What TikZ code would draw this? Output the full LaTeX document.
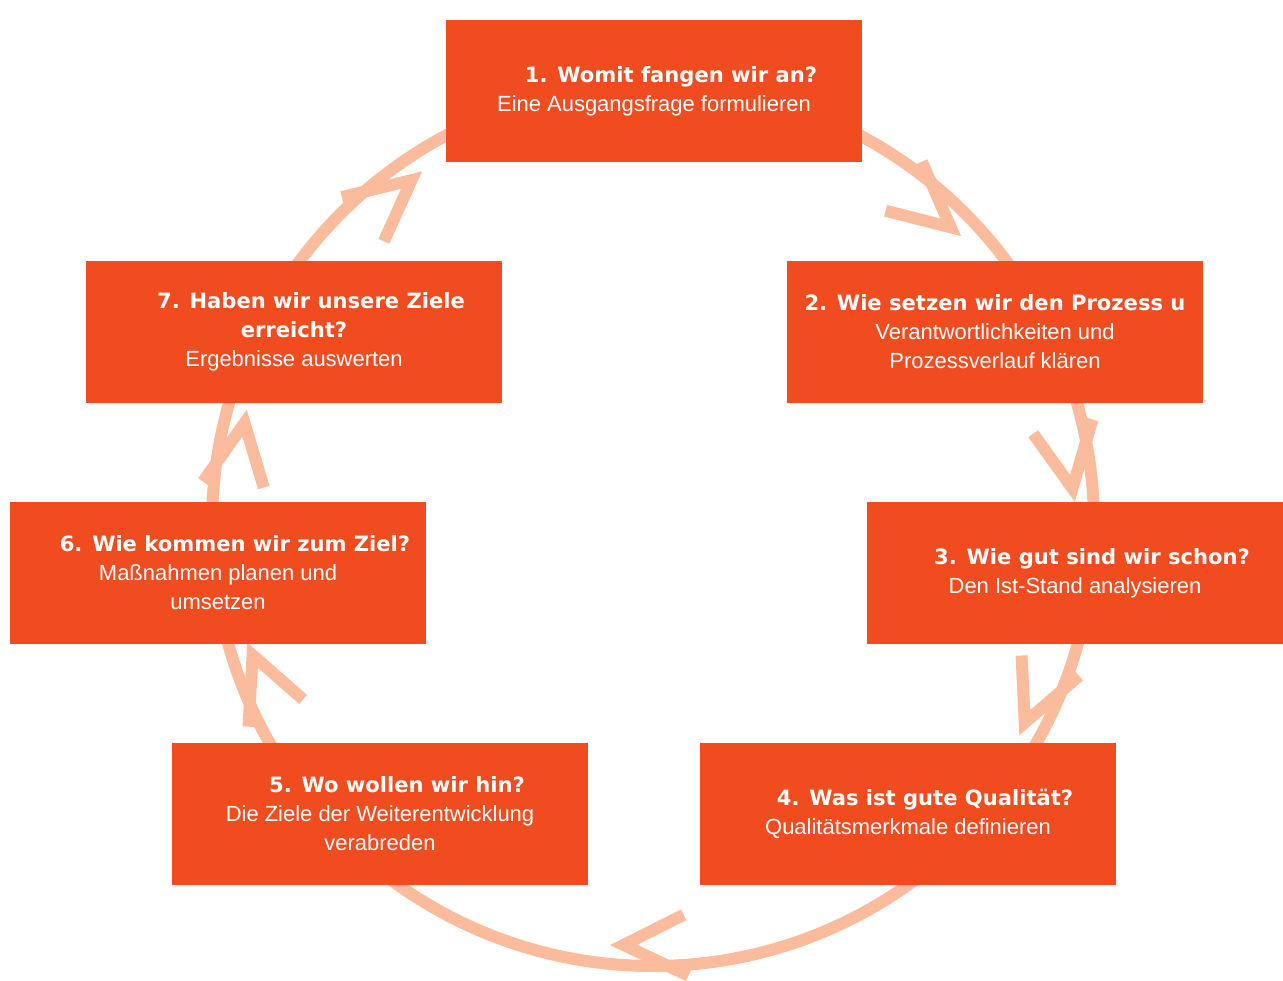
\documentclass[tikz,border=0pt]{standalone}
\usepackage{fontspec}
\setmainfont{Liberation Sans}
\newfontfamily\titelschrift{DejaVu Sans}
\usetikzlibrary{calc}

\definecolor{boxrot}{RGB}{240,76,32}
\definecolor{ringfarbe}{RGB}{250,188,156}
\newcommand{\titel}[2][0.68cm]{{\hspace*{#1}\titelschrift\bfseries\fontsize{12}{16.5}\selectfont #2}}

\begin{document}
\begin{tikzpicture}[x=0.02cm, y=0.02cm,
      box/.style={fill=boxrot, text=white, minimum width=8.32cm, minimum height=2.84cm,
                  inner sep=0pt, align=center, font=\fontsize{12.5}{16.5}\selectfont},
      ring/.style={draw=ringfarbe, line width=0.24cm},
      pfeil/.style={draw=ringfarbe, line width=0.24cm, line join=miter}]

               \useasboundingbox (0, 0) rectangle (1283, 980);

               %% Kreis
               \coordinate (mitte) at (653, 455);
               \draw[ring] (mitte) circle (441);
               \foreach \w in {45, 5, -28, -94, -162, 166, 125}
                   \draw[pfeil] ($(mitte) + (\w+8.5:452)$) -- ($(mitte) + (\w:421)$) -- ($(mitte) + (\w+8.5:391)$);

               %% 1
               \node[box] at (654, 889) (schritt1) {\titel{1. Womit fangen wir an?}\\Eine Ausgangsfrage formulieren};
               %% 2
               \node[box] at (995, 648) (schritt2) {\titel[0cm]{2. Wie setzen wir den Prozess u}\\Verantwortlichkeiten und\\Prozessverlauf klären};
               %% 3
               \node[box] at (1075, 407) (schritt3) {\titel{3. Wie gut sind wir schon?}\\Den Ist-Stand analysieren};
               %% 4
               \node[box] at (908, 166) (schritt4) {\titel{4. Was ist gute Qualität?}\\Qualitätsmerkmale definieren};
               %% 5
               \node[box] at (380, 166) (schritt5) {\titel{5. Wo wollen wir hin?}\\Die Ziele der Weiterentwicklung\\verabreden};
               %% 6
               \node[box] at (218, 407) (schritt6) {\titel{6. Wie kommen wir zum Ziel?}\\Maßnahmen planen und\\umsetzen};
               %% 7
               \node[box] at (294, 648) (schritt7) {\titel{7. Haben wir unsere Ziele}\\\titel[0cm]{erreicht?}\\Ergebnisse auswerten};
\end{tikzpicture}
\end{document}
